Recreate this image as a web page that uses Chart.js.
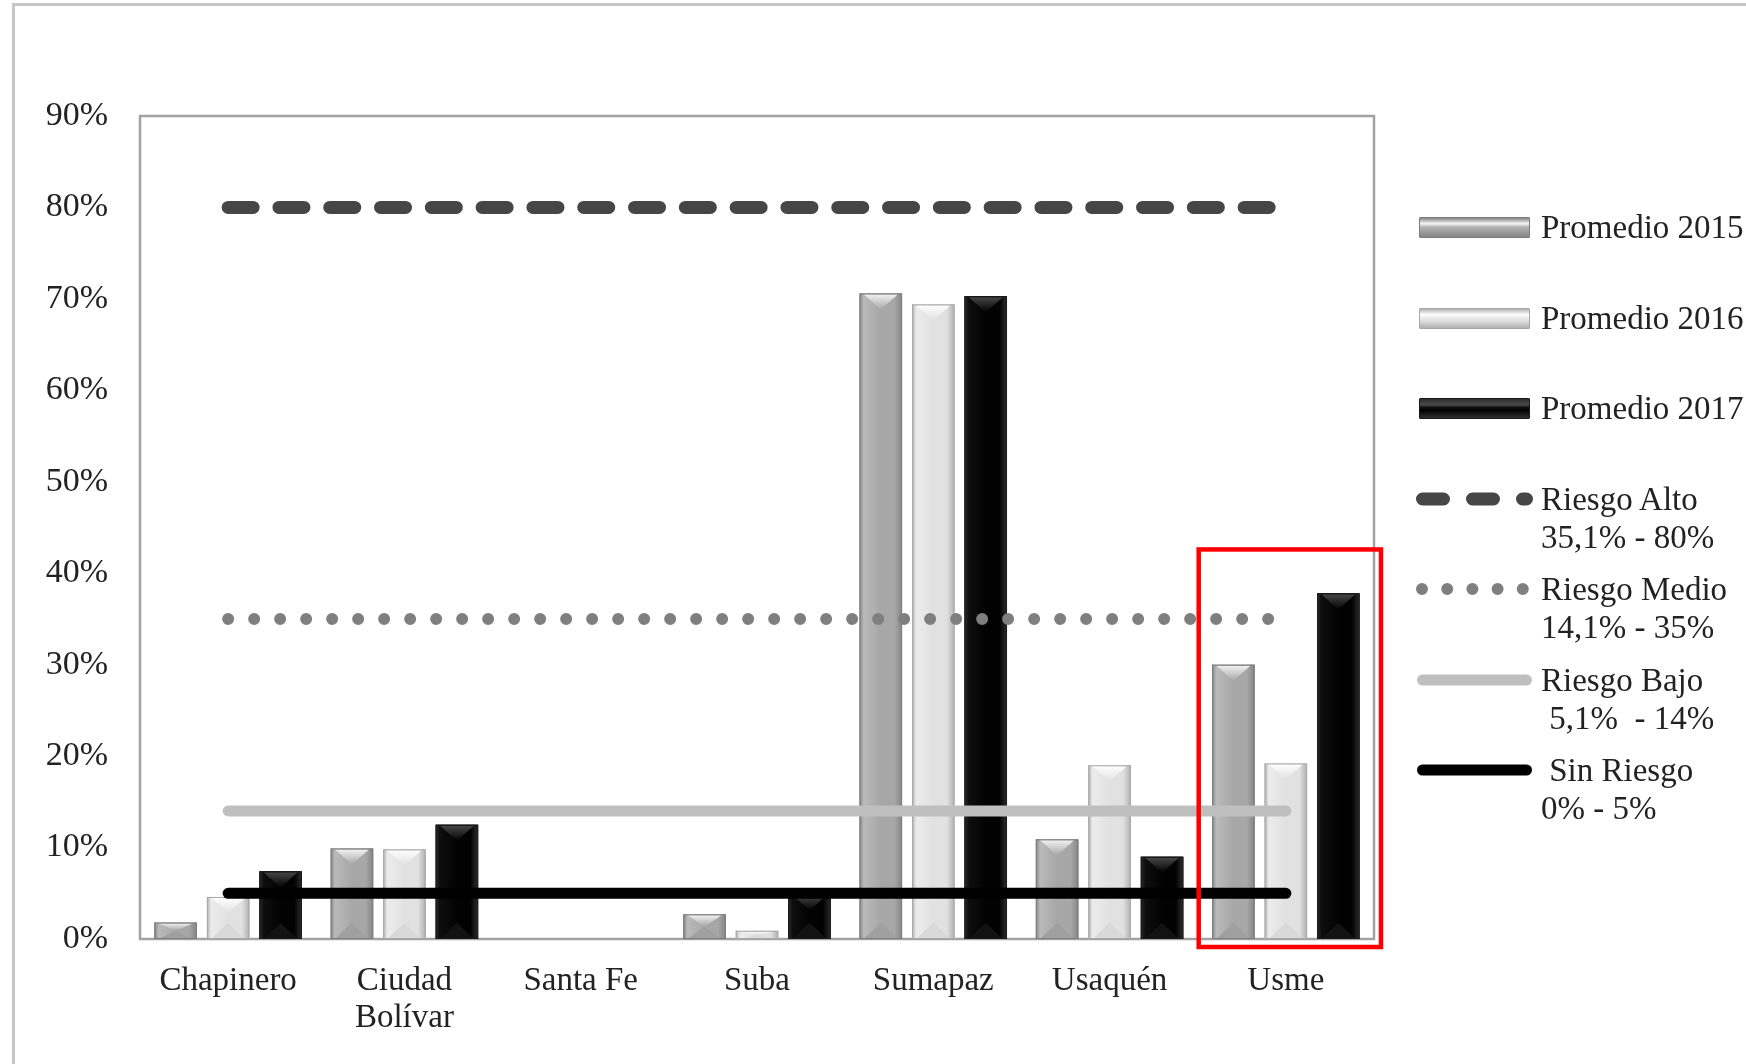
<!DOCTYPE html>
<html lang="es">
<head>
<meta charset="utf-8">
<title>Promedios por localidad</title>
<script src="https://cdn.jsdelivr.net/npm/chart.js@4.4.1/dist/chart.umd.min.js"></script>
<style>
  html, body { margin: 0; padding: 0; background: #fff; }
  .page {
    position: relative;
    width: 1746px;
    height: 1064px;
    overflow: hidden;
    font-family: "Liberation Serif", "DejaVu Serif", serif;
    color: #222;
  }
  .page__frame {
    position: absolute;
    left: 12px;
    top: 3px;
    width: 1800px;
    height: 1200px;
    border-left: 3px solid #c6c6c6;
    border-top: 3px solid #c6c6c6;
  }
  .chart__wrapper { position: absolute; left: 0; top: 0; width: 1746px; height: 1064px; }
  .legend__swatch { position: absolute; }
  .legend__bar { position: absolute; left: 1419px; width: 109px; height: 19px; border: 1px solid #7a7a7a; border-radius: 1px; }
  .legend__text {
    position: absolute;
    left: 1541px;
    font-size: 33px;
    line-height: 38px;
    white-space: pre;
    color: #222;
  }
</style>
</head>
<body>
<div class="page">
  <div class="page__frame"></div>
  <div class="chart__wrapper"><canvas id="promedios-chart"></canvas></div>
  <div id="legend"></div>
</div>
<script>
  const categories = ["Chapinero", ["Ciudad", "Bolívar"], "Santa Fe", "Suba", "Sumapaz", "Usaquén", "Usme"];
  const yTicks = [0, 10, 20, 30, 40, 50, 60, 70, 80, 90];

  const seriesLabels = ["Promedio 2015", "Promedio 2016", "Promedio 2017"];
  const promedio2015 = [1.8, 9.9, 0, 2.7, 70.6, 10.9, 30.0];
  const promedio2016 = [4.6, 9.8, 0, 0.9, 69.4, 19.0, 19.2];
  const promedio2017 = [7.4, 12.5, 0, 4.9, 70.3, 9.0, 37.8];

  const riskNames = ["Riesgo Alto", "Riesgo Medio", "Riesgo Bajo", " Sin Riesgo"];
  const riskRanges = ["35,1% - 80%", "14,1% - 35%", " 5,1%  - 14%", "0% - 5%"];
  const riesgoAlto = [80, 80, 80, 80, 80, 80, 80];
  const riesgoMedio = [35, 35, 35, 35, 35, 35, 35];
  const riesgoBajo = [14, 14, 14, 14, 14, 14, 14];
  const sinRiesgo = [5, 5, 5, 5, 5, 5, 5];

  const highlightIndex = 6; // Usme
  const highlightTop = 42.6;

  const barStyles = [
    { body: "#a7a7a7", light: "#bababa", edge: "#858585", shine: "#f6f6f6", foot: "#a0a0a0", border: "#7c7c7c" },
    { body: "#e1e1e1", light: "#ececec", edge: "#b0b0b0", shine: "#ffffff", foot: "#d9d9d9", border: "#a8a8a8" },
    { body: "#020202", light: "#0e0e0e", edge: "#2e2e2e", shine: "#4a4a4a", foot: "#121212", border: "#1a1a1a" },
  ];

  const lineStyles = [
    { color: "#464646", width: 13, dash: [25, 25.8] },
    { color: "#7f7f7f", width: 12, dash: [0, 26] },
    { color: "#bfbfbf", width: 11, dash: [] },
    { color: "#000000", width: 11, dash: [] },
  ];

  Chart.defaults.font.family = '"Liberation Serif", "DejaVu Serif", serif';
  Chart.defaults.color = "#222";

  // 3d-ish bars: side shading, top and bottom chevrons
  const bevelPlugin = {
    id: "bevel",
    afterDatasetDraw(chart, args) {
      const meta = args.meta;
      if (meta.type !== "bar") return;
      const st = barStyles[chart.data.datasets[args.index].styleIndex];
      if (!st) return;
      const ctx = chart.ctx;
      ctx.save();
      meta.data.forEach((bar) => {
        const { x, y, base, width } = bar.getProps(["x", "y", "base", "width"], true);
        const h = base - y;
        if (h < 1) return;
        const l = x - width / 2;
        const r = x + width / 2;

        const g = ctx.createLinearGradient(l, 0, r, 0);
        g.addColorStop(0, st.edge);
        g.addColorStop(0.1, st.light);
        g.addColorStop(0.5, st.body);
        g.addColorStop(0.82, st.body);
        g.addColorStop(1, st.edge);
        ctx.fillStyle = g;
        ctx.fillRect(l, y, width, h);

        const d = Math.min(width * 0.38, h / 2);
        const inset = width * 0.1;

        // bottom chevron
        ctx.fillStyle = st.foot;
        ctx.beginPath();
        ctx.moveTo(l + inset, base);
        ctx.lineTo(r - inset, base);
        ctx.lineTo(x, base - d);
        ctx.closePath();
        ctx.fill();

        // top band and chevron
        const tg = ctx.createLinearGradient(0, y, 0, y + d);
        tg.addColorStop(0, st.shine);
        tg.addColorStop(1, st.body);
        ctx.fillStyle = tg;
        ctx.beginPath();
        ctx.moveTo(l + inset, y + 1);
        ctx.lineTo(r - inset, y + 1);
        ctx.lineTo(x, y + d);
        ctx.closePath();
        ctx.fill();

        ctx.strokeStyle = st.border;
        ctx.lineWidth = 1;
        ctx.strokeRect(l + 0.5, y + 0.5, width - 1, h - 1);
      });
      ctx.restore();
    },
  };

  const framePlugin = {
    id: "frame",
    beforeDatasetsDraw(chart) {
      const { ctx, chartArea: a } = chart;
      ctx.save();
      ctx.strokeStyle = "#a3a3a3";
      ctx.lineWidth = 2.5;
      ctx.strokeRect(a.left, a.top, a.right - a.left, a.bottom - a.top);
      ctx.restore();
    },
    afterDraw(chart) {
      // red highlight box around Usme
      const { ctx, scales } = chart;
      const xs = scales.x;
      const ys = scales.y;
      const cw = (xs.right - xs.left) / categories.length;
      const cx = xs.getPixelForValue(highlightIndex);
      ctx.save();
      ctx.strokeStyle = "#ff0000";
      ctx.lineWidth = 4.5;
      ctx.strokeRect(cx - cw / 2 + 1, ys.getPixelForValue(highlightTop), cw + 6, ys.getPixelForValue(0) - ys.getPixelForValue(highlightTop) + 8);
      ctx.restore();
    },
  };

  const barSeries = [promedio2015, promedio2016, promedio2017];
  const riskSeries = [riesgoAlto, riesgoMedio, riesgoBajo, sinRiesgo];

  const datasets = [];
  riskSeries.forEach((data, i) => {
    datasets.push({
      type: "line",
      label: riskNames[i].trim(),
      data: data,
      borderColor: lineStyles[i].color,
      borderWidth: lineStyles[i].width,
      borderDash: lineStyles[i].dash,
      borderCapStyle: "round",
      pointRadius: 0,
      fill: false,
      order: 0,
    });
  });
  barSeries.forEach((data, i) => {
    datasets.push({
      type: "bar",
      label: seriesLabels[i],
      data: data,
      styleIndex: i,
      backgroundColor: barStyles[i].body,
      borderWidth: 0,
      categoryPercentage: 0.893,
      barPercentage: 0.81,
      order: 1,
    });
  });

  const chartElement = document.getElementById("promedios-chart").getContext("2d");
  const chart = new Chart(chartElement, {
    type: "bar",
    data: { labels: categories, datasets },
    options: {
      responsive: true,
      maintainAspectRatio: false,
      animation: false,
      layout: { padding: { left: 0, right: 372, top: 116, bottom: 0 } },
      plugins: { legend: { display: false }, tooltip: { enabled: false } },
      scales: {
        x: {
          grid: { display: false, drawTicks: false },
          border: { display: false },
          ticks: {
            padding: 24,
            color: "#222",
            maxRotation: 0,
            autoSkip: false,
            font: { size: 33, lineHeight: 1.12 },
          },
          afterFit(scale) { scale.height = 125; },
        },
        y: {
          min: 0,
          max: 90,
          afterBuildTicks(scale) { scale.ticks = yTicks.map((v) => ({ value: v })); },
          grid: { display: false, drawTicks: false },
          border: { display: false },
          ticks: {
            padding: 32,
            color: "#222",
            font: { size: 34 },
            callback: (v) => v + "%",
          },
          afterFit(scale) { scale.width = 140; },
        },
      },
    },
    plugins: [bevelPlugin, framePlugin],
  });

  // legend on the right
  const legend = document.getElementById("legend");
  const rowTop = 227;
  const rowStep = 90.5;

  function addText(text, centerY) {
    const el = document.createElement("div");
    el.className = "legend__text";
    el.style.top = centerY - 19 + "px";
    el.textContent = text;
    legend.appendChild(el);
  }

  seriesLabels.forEach((label, i) => {
    const cy = rowTop + rowStep * i;
    const sw = document.createElement("div");
    sw.className = "legend__bar";
    sw.style.top = cy - 10 + "px";
    const st = barStyles[i];
    sw.style.background =
      "linear-gradient(to bottom, " + st.edge + " 0%, " + st.shine + " 30%, " + st.light + " 45%, " + st.body + " 60%, " + st.edge + " 100%)";
    sw.style.borderColor = st.border;
    legend.appendChild(sw);
    addText(label, cy);
  });

  riskNames.forEach((name, i) => {
    const cy = rowTop + rowStep * (i + 3);
    const ls = lineStyles[i];
    const ns = "http://www.w3.org/2000/svg";
    const svg = document.createElementNS(ns, "svg");
    svg.setAttribute("width", "130");
    svg.setAttribute("height", "20");
    svg.setAttribute("class", "legend__swatch");
    svg.style.left = "1414px";
    svg.style.top = cy - 10 + "px";
    const line = document.createElementNS(ns, "line");
    const dash = i === 0 ? "21 29" : i === 1 ? "0 25.2" : "";
    line.setAttribute("x1", i === 1 ? "8" : "8.5");
    line.setAttribute("x2", i === 1 ? "110" : "112.5");
    line.setAttribute("y1", "10");
    line.setAttribute("y2", "10");
    line.setAttribute("stroke", ls.color);
    line.setAttribute("stroke-width", ls.width);
    line.setAttribute("stroke-linecap", "round");
    if (dash) line.setAttribute("stroke-dasharray", dash);
    svg.appendChild(line);
    legend.appendChild(svg);
    addText(name, cy);
    addText(riskRanges[i], cy + 38);
  });
</script>
</body>
</html>
